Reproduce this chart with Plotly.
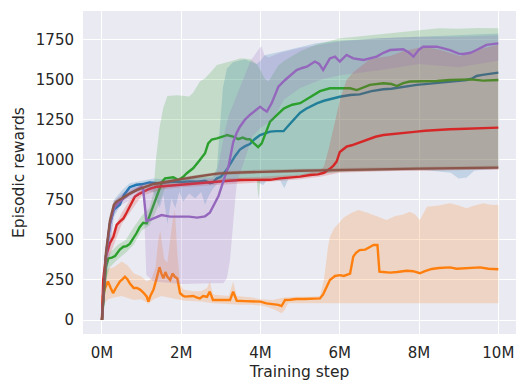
import plotly.graph_objects as go

# Training-step positions are in millions of environment steps.

# ---- blue run ----
blue_x = [0, 0.05, 0.1, 0.2, 0.3, 0.45, 0.55, 0.7, 0.87, 1.0, 1.2, 1.4, 1.6, 1.8, 2.0, 2.2, 2.4, 2.6, 2.72, 2.8,
          2.9, 3.0, 3.15, 3.25, 3.36, 3.48, 3.6, 3.73, 3.85, 3.99, 4.1, 4.24, 4.4, 4.58, 4.74, 4.87, 5.0, 5.15,
          5.25, 5.42, 5.6, 5.84, 6.0, 6.26, 6.5, 6.8, 7.1, 7.3, 7.52, 7.75, 7.94, 8.15, 8.36, 8.6, 8.78, 9.0,
          9.2, 9.35, 9.45, 9.6, 9.8, 10.0]
blue_y = [0, 220, 400, 600, 690, 720, 780, 830, 845, 848, 860, 855, 860, 865, 862, 866, 865, 870, 855, 860,
          885, 895, 940, 985, 1025, 1065, 1085, 1100, 1130, 1156, 1165, 1177, 1180, 1180, 1225, 1260, 1295, 1320,
          1333, 1354, 1370, 1385, 1395, 1406, 1410, 1430, 1442, 1445, 1454, 1462, 1469, 1474, 1479, 1485, 1490,
          1496, 1500, 1510, 1525, 1532, 1540, 1546]
blue_hi_x = [0, 0.1, 0.3, 0.5, 0.7, 1.0, 1.3, 1.6, 2.0, 2.4, 2.8, 2.9, 2.97, 3.05, 3.15, 3.3, 3.6, 3.9, 4.0,
             4.1, 4.5, 5.0, 5.4, 6.0, 7.0, 8.0, 9.0, 10.0]
blue_hi_y = [0, 440, 750, 810, 855, 870, 885, 880, 885, 890, 895, 950, 1200, 1450, 1570, 1610, 1630, 1600, 1620,
             1655, 1677, 1708, 1729, 1745, 1760, 1770, 1780, 1790]
blue_lo_x = [0, 0.1, 0.3, 0.5, 0.7, 1.0, 1.3, 1.45, 1.55, 1.65, 1.75, 1.85, 1.95, 2.05, 2.2, 2.35, 2.5, 2.6,
             2.7, 2.8, 2.9, 3.0, 3.3, 3.6, 3.9, 4.0, 4.07, 4.15, 4.3, 4.5, 4.6, 4.7, 5.0, 5.5, 6.0, 7.0, 8.0,
             8.8, 9.0, 9.2, 9.4, 10.0]
blue_lo_y = [0, 300, 640, 740, 790, 810, 800, 700, 780, 600, 760, 700, 800, 740, 790, 760, 800, 720,
             780, 820, 850, 860, 860, 870, 870, 850, 844, 870, 875, 870, 823, 880, 900, 910, 930, 935, 940,
             920, 885, 890, 935, 945]

# ---- orange run ----
orange_x = [0, 0.02, 0.08, 0.15, 0.22, 0.28, 0.35, 0.45, 0.52, 0.58, 0.64, 0.7, 0.8, 0.88, 0.96, 1.05, 1.13,
            1.17, 1.22, 1.3, 1.38, 1.45, 1.5, 1.55, 1.6, 1.65, 1.72, 1.78, 1.84, 1.9, 1.97, 2.05, 2.1, 2.2, 2.3,
            2.4, 2.47, 2.55, 2.65, 2.72, 2.8, 2.95, 3.1, 3.23, 3.31, 3.4, 3.6, 3.8, 3.9, 4.0, 4.15, 4.3, 4.45,
            4.53, 4.62, 4.75, 4.9, 5.1, 5.3, 5.5, 5.58, 5.67, 5.75, 5.88, 6.0, 6.1, 6.17, 6.26, 6.34, 6.41, 6.5,
            6.64, 6.75, 6.85, 6.95, 7.0, 7.1, 7.27, 7.45, 7.69, 7.85, 8.02, 8.15, 8.32, 8.5, 8.78, 8.95, 9.12,
            9.3, 9.54, 9.75, 10.0]
orange_y = [0, 150, 200, 240, 200, 168, 200, 240, 255, 270, 255, 230, 200, 200, 190, 170, 146,
            115, 150, 190, 260, 330, 290, 260, 300, 270, 250, 290, 270, 260, 167, 150, 146, 150, 150,
            140, 135, 150, 145, 177, 125, 125, 125, 125, 177, 120, 118, 115, 118, 115, 104, 100, 95,
            87, 125, 127, 131, 131, 131, 135, 160, 208, 250, 275, 280, 275, 281, 290, 396, 420, 437,
            440, 455, 469, 469, 302, 300, 296, 300, 308, 305, 292, 305, 319, 325, 329, 320, 323,
            326, 329, 320, 317]
orange_hi_x = [0, 0.05, 0.15, 0.3, 0.5, 0.65, 0.8, 1.0, 1.13, 1.25, 1.35, 1.42, 1.47, 1.52, 1.57, 1.65, 1.72,
               1.78, 1.84, 1.9, 1.97, 2.05, 2.3, 2.5, 2.65, 2.72, 2.8, 3.2, 3.31, 3.4, 3.8, 4.0, 4.3, 4.6, 4.9,
               5.3, 5.5, 5.6, 5.7, 5.75, 5.85, 5.96, 6.1, 6.3, 6.47, 6.7, 6.85, 7.0, 7.18, 7.4, 7.6, 7.77, 7.9,
               8.02, 8.2, 8.5, 8.78, 9.0, 9.2, 9.4, 9.62, 9.8, 10.0]
orange_hi_y = [0, 250, 320, 330, 365, 340, 292, 270, 240, 260, 330, 500, 560, 480, 380, 360, 520,
               620, 690, 420, 230, 190, 180, 180, 200, 240, 160, 150, 240, 150, 140, 130, 125, 140, 145,
               145, 150, 250, 450, 520, 570, 604, 640, 670, 687, 670, 656, 640, 625, 650, 660, 677, 660,
               625, 708, 715, 729, 715, 698, 715, 729, 720, 719]
orange_lo_x = [0, 0.05, 0.15, 0.3, 0.5, 0.8, 1.0, 1.13, 1.17, 1.3, 1.5, 1.7, 1.9, 2.1, 2.5, 2.8, 3.2, 3.5, 3.8,
               4.0, 4.16, 4.35, 4.53, 4.6, 4.7, 5.0, 5.5, 6.0, 7.0, 8.0, 9.0, 10.0]
orange_lo_y = [0, 100, 130, 140, 150, 125, 130, 110, 100, 130, 150, 140, 130, 120, 115, 105, 100, 95, 95,
               90, 83, 65, 42, 60, 104, 104, 104, 104, 104, 104, 104, 104]

# ---- green run ----
green_x = [0, 0.05, 0.1, 0.16, 0.25, 0.33, 0.45, 0.54, 0.62, 0.7, 0.8, 0.87, 0.95, 1.04, 1.13, 1.2, 1.25, 1.3,
           1.38, 1.46, 1.52, 1.59, 1.7, 1.8, 1.93, 2.05, 2.14, 2.3, 2.47, 2.55, 2.6, 2.68, 2.77, 2.9, 2.98, 3.1,
           3.15, 3.23, 3.31, 3.44, 3.55, 3.65, 3.73, 3.85, 3.94, 4.03, 4.16, 4.24, 4.41, 4.58, 4.66, 4.8, 5.0,
           5.25, 5.5, 5.75, 6.0, 6.26, 6.43, 6.6, 6.76, 7.1, 7.3, 7.44, 7.6, 7.77, 8.1, 8.45, 8.78, 9.0, 9.3,
           9.62, 9.8, 10.0]
green_y = [0, 200, 330, 385, 390, 400, 440, 458, 462, 475, 510, 542, 580, 608, 604, 650, 687, 719,
           771, 833, 865, 885, 890, 892, 875, 895, 917, 948, 1000, 1030, 1042, 1104, 1128, 1135, 1140, 1150,
           1156, 1150, 1146, 1130, 1140, 1130, 1130, 1100, 1080, 1104, 1190, 1240, 1280, 1320, 1330, 1345, 1355,
           1395, 1430, 1448, 1450, 1448, 1437, 1455, 1469, 1479, 1475, 1462, 1480, 1490, 1490, 1494, 1500, 1503,
           1504, 1496, 1500, 1500]
green_hi_x = [0, 0.1, 0.2, 0.4, 0.6, 0.8, 1.0, 1.2, 1.3, 1.36, 1.45, 1.55, 1.65, 1.9, 2.2, 2.3, 2.47, 2.6, 2.72,
              2.9, 3.23, 3.5, 3.75, 3.9, 4.0, 4.1, 4.2, 4.3, 4.45, 4.6, 4.8, 5.0, 5.4, 5.7, 6.0, 6.4, 6.85, 7.3,
              7.7, 8.1, 8.5, 9.0, 9.5, 10.0]
green_hi_y = [0, 360, 420, 470, 500, 580, 650, 700, 800, 1000, 1200, 1330, 1400, 1405, 1396, 1420, 1490, 1510,
              1542, 1594, 1615, 1635, 1630, 1600, 1560, 1510, 1490, 1530, 1590, 1620, 1650, 1680, 1720, 1740,
              1760, 1770, 1781, 1790, 1802, 1812, 1823, 1820, 1825, 1823]
green_lo_x = [0, 0.1, 0.2, 0.4, 0.6, 0.8, 1.0, 1.2, 1.4, 1.6, 2.0, 2.5, 3.0, 3.5, 3.9, 3.95, 4.0, 4.5, 5.0, 6.0,
              7.0, 8.0, 9.0, 10.0]
green_lo_y = [0, 250, 330, 380, 420, 470, 560, 590, 700, 830, 850, 860, 870, 875, 880, 760, 880, 890, 905, 925,
              935, 940, 945, 950]

# ---- red run ----
red_x = [0, 0.03, 0.1, 0.2, 0.29, 0.37, 0.45, 0.54, 0.62, 0.7, 0.83, 0.95, 1.04, 1.2, 1.38, 1.6, 1.88, 2.1,
         2.39, 2.6, 2.9, 3.2, 3.48, 3.73, 4.0, 4.24, 4.49, 4.8, 5.0, 5.25, 5.45, 5.6, 5.67, 5.75, 5.84, 5.92,
         6.0, 6.08, 6.17, 6.3, 6.43, 6.6, 6.76, 6.9, 7.1, 7.3, 7.52, 7.75, 7.94, 8.15, 8.36, 8.6, 8.78, 9.0,
         9.2, 9.5, 9.8, 10.0]
red_y = [0, 250, 400, 480, 521, 594, 615, 635, 670, 708, 771, 790, 802, 820, 833, 838, 844, 848,
         854, 858, 865, 870, 875, 875, 878, 876, 885, 890, 896, 906, 910, 920, 930, 945, 965, 990,
         1050, 1068, 1083, 1092, 1104, 1120, 1135, 1145, 1156, 1160, 1167, 1172, 1177, 1183, 1187, 1190, 1192,
         1194, 1196, 1198, 1200, 1202]
red_hi_x = [0, 0.1, 0.3, 0.5, 0.7, 1.0, 1.5, 2.0, 3.0, 4.0, 5.0, 5.5, 5.6, 5.7, 5.8, 5.9, 6.0, 6.17, 6.35, 6.5,
            6.76, 7.0, 7.27, 7.6, 8.1, 8.5, 9.03, 9.5, 10.0]
red_hi_y = [0, 440, 570, 670, 750, 830, 855, 865, 885, 895, 910, 935, 960, 1050, 1150, 1260, 1375, 1500, 1550,
            1580, 1630, 1640, 1650, 1680, 1708, 1690, 1650, 1690, 1720]
red_lo_x = [0, 0.1, 0.3, 0.5, 0.7, 1.0, 1.5, 2.0, 3.0, 4.0, 5.0, 5.5, 6.0, 7.0, 8.0, 9.0, 10.0]
red_lo_y = [0, 340, 470, 600, 670, 775, 815, 830, 845, 860, 880, 895, 920, 930, 935, 938, 940]

# ---- purple run ----
purple_x = [0, 0.05, 0.1, 0.2, 0.3, 0.4, 0.55, 0.7, 0.85, 1.0, 1.04, 1.12, 1.2, 1.35, 1.5, 1.72, 2.0, 2.2, 2.4,
            2.6, 2.72, 2.82, 2.94, 3.1, 3.19, 3.31, 3.4, 3.48, 3.6, 3.73, 3.87, 3.99, 4.08, 4.16, 4.28, 4.45,
            4.62, 4.75, 4.91, 5.05, 5.17, 5.37, 5.48, 5.58, 5.68, 5.75, 5.88, 6.0, 6.17, 6.34, 6.6, 6.8, 6.93,
            7.1, 7.27, 7.6, 7.75, 7.86, 8.0, 8.1, 8.45, 8.78, 9.0, 9.12, 9.3, 9.45, 9.7, 10.0]
purple_y = [0, 230, 400, 600, 700, 730, 760, 790, 810, 830, 815, 620, 625, 640, 656, 646, 645, 646, 640,
            648, 670, 720, 775, 896, 958, 1110, 1170, 1208, 1250, 1281, 1310, 1333, 1315, 1302, 1354, 1458,
            1500, 1530, 1562, 1575, 1583, 1615, 1600, 1562, 1600, 1635, 1646, 1615, 1656, 1635, 1625, 1640, 1646,
            1670, 1687, 1692, 1670, 1646, 1690, 1708, 1708, 1687, 1665, 1662, 1670, 1687, 1719, 1729]
purple_hi_x = [0, 0.1, 0.3, 0.5, 0.7, 1.0, 1.05, 1.12, 1.5, 2.0, 2.5, 2.8, 2.9, 3.0, 3.1, 3.2, 3.4, 3.6, 3.75,
               3.95, 4.02, 4.1, 4.2, 4.5, 5.0, 5.5, 6.0, 7.0, 8.0, 9.0, 10.0]
purple_hi_y = [0, 420, 740, 790, 820, 850, 855, 860, 870, 880, 885, 890, 920, 1050, 1180, 1280, 1400, 1530,
               1620, 1690, 1710, 1655, 1640, 1670, 1700, 1720, 1740, 1760, 1770, 1770, 1780]
purple_lo_x = [0, 0.1, 0.3, 0.5, 0.7, 1.0, 1.05, 1.12, 1.3, 1.6, 2.0, 2.4, 2.8, 3.06, 3.15, 3.23, 3.31, 3.4,
               3.6, 3.8, 4.0, 4.3, 4.6, 5.0, 5.5, 6.0, 7.0, 8.0, 9.0, 10.0]
purple_lo_y = [0, 200, 660, 720, 750, 790, 760, 281, 240, 235, 225, 228, 230, 229, 260, 375, 604, 854,
               1000, 1150, 1200, 1250, 1380, 1450, 1500, 1530, 1560, 1600, 1580, 1620]

# ---- brown run ----
brown_x = [0, 0.05, 0.1, 0.2, 0.3, 0.37, 0.5, 0.7, 0.9, 1.1, 1.3, 1.46, 1.7, 2.0, 2.3, 2.6, 2.9, 3.3, 3.7, 4.0,
           4.5, 5.0, 5.5, 6.0, 7.0, 8.0, 9.0, 10.0]
brown_y = [0, 250, 420, 620, 720, 740, 760, 790, 815, 835, 850, 856, 868, 880, 892, 905, 915, 920, 924, 927,
           930, 933, 935, 938, 942, 946, 949, 952]
brown_band_x = [0, 0.05, 0.1, 0.2, 0.3, 0.5, 1.0, 1.5, 2.0, 3.0, 4.0, 6.0, 8.0, 10.0]
brown_hi_y = [0, 320, 470, 660, 745, 780, 845, 870, 892, 930, 940, 950, 958, 964]
brown_lo_y = [0, 180, 370, 580, 695, 740, 820, 845, 868, 905, 915, 926, 934, 940]

# Axis ticks
x_tick_vals = [0, 2, 4, 6, 8, 10]
x_tick_text = ["0M", "2M", "4M", "6M", "8M", "10M"]
y_tick_vals = [0, 250, 500, 750, 1000, 1250, 1500, 1750]

runs = [
    ("#1f77b4", "31,119,180", blue_x, blue_y, blue_hi_x, blue_hi_y, blue_lo_x, blue_lo_y),
    ("#ff7f0e", "255,127,14", orange_x, orange_y, orange_hi_x, orange_hi_y, orange_lo_x, orange_lo_y),
    ("#2ca02c", "44,160,44", green_x, green_y, green_hi_x, green_hi_y, green_lo_x, green_lo_y),
    ("#d62728", "214,39,40", red_x, red_y, red_hi_x, red_hi_y, red_lo_x, red_lo_y),
    ("#9467bd", "148,103,189", purple_x, purple_y, purple_hi_x, purple_hi_y, purple_lo_x, purple_lo_y),
    ("#8c564b", "140,86,75", brown_x, brown_y, brown_band_x, brown_hi_y, brown_band_x, brown_lo_y),
]

fig = go.Figure()
for color, rgb, mx, my, hx, hy, lx, ly in runs:
    # shaded spread across seeds, drawn as one closed polygon
    fig.add_trace(go.Scatter(
        x=list(hx) + list(lx)[::-1],
        y=list(hy) + list(ly)[::-1],
        fill="toself", fillcolor=f"rgba({rgb},0.2)",
        line=dict(width=0), mode="lines", hoverinfo="skip", showlegend=False,
    ))
    # mean curve
    fig.add_trace(go.Scatter(
        x=mx, y=my, mode="lines", line=dict(color=color, width=2.4),
        showlegend=False,
    ))

text_color = "#262626"
fig.update_layout(
    width=516, height=385,
    margin=dict(l=83, r=0, t=11, b=51),
    paper_bgcolor="white", plot_bgcolor="#EAEAF2",
    font=dict(family="DejaVu Sans", color=text_color, size=15),
    showlegend=False,
)
fig.update_xaxes(
    range=[-0.479, 10.446], tickvals=x_tick_vals, ticktext=x_tick_text,
    showgrid=True, gridcolor="white", gridwidth=1.3, zeroline=False,
    ticks="", ticklabelstandoff=8, tickfont=dict(size=15, color=text_color),
    title=dict(text="Training step", font=dict(size=15.5, color=text_color), standoff=5),
    showline=False,
)
fig.update_yaxes(
    range=[-87.5, 1931], tickvals=y_tick_vals,
    showgrid=True, gridcolor="white", gridwidth=1.3, zeroline=False,
    ticks="", ticklabelstandoff=8, tickfont=dict(size=15, color=text_color),
    title=dict(text="Episodic rewards", font=dict(size=15.5, color=text_color), standoff=7),
    showline=False,
)

fig.write_html("out.html")
